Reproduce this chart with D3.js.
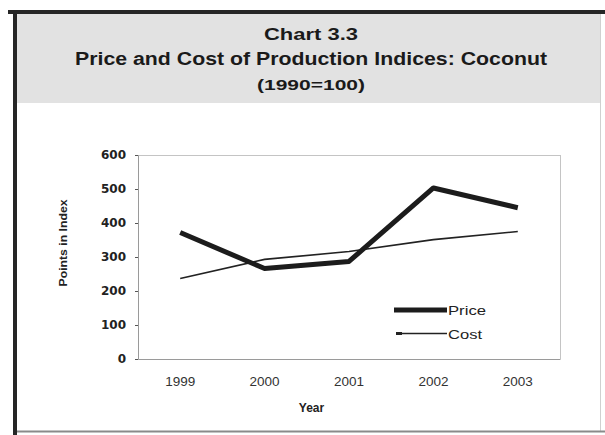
<!DOCTYPE html>
<html>
<head>
<meta charset="utf-8">
<script src="https://cdn.jsdelivr.net/npm/d3@7"></script>
<style>
  html, body { margin: 0; padding: 0; background: #fff; }
  svg { display: block; }
</style>
</head>
<body>
<svg id="chart" width="605" height="435"></svg>
<script>
// ---- data ----
const years = ["1999", "2000", "2001", "2002", "2003"];
const priceValues = [372, 266, 287, 503, 445];
const costValues = [237, 293, 316, 351, 375];
const yTicks = [0, 100, 200, 300, 400, 500, 600];
const titleLines = ["Chart 3.3", "Price and Cost of Production Indices: Coconut", "(1990=100)"];
const seriesNames = ["Price", "Cost"];

const svg = d3.select("#chart");

// ---- frame ----
svg.append("rect").attr("x", 16).attr("y", 14).attr("width", 584).attr("height", 89).attr("fill", "#e2e2e2");
svg.append("rect").attr("x", 8).attr("y", 10).attr("width", 597).attr("height", 4).attr("fill", "#262626");
svg.append("rect").attr("x", 13).attr("y", 10).attr("width", 4).attr("height", 425).attr("fill", "#262626");
svg.append("line").attr("x1", 600.5).attr("x2", 600.5).attr("y1", 14).attr("y2", 432).attr("stroke", "#d0d0d0").attr("stroke-width", 1);
svg.append("line").attr("x1", 17).attr("x2", 605).attr("y1", 431.5).attr("y2", 431.5).attr("stroke", "#8a8a8a").attr("stroke-width", 2);

// ---- title ----
const titleSpec = [
  { y: 40, size: 17, len: 94 },
  { y: 65, size: 18, len: 472 },
  { y: 90, size: 15, len: 108 }
];
titleLines.forEach((t, i) => {
  svg.append("text")
    .attr("x", 311).attr("y", titleSpec[i].y)
    .attr("text-anchor", "middle")
    .attr("font-family", "Liberation Sans, Arial, sans-serif")
    .attr("font-weight", "bold")
    .attr("font-size", titleSpec[i].size)
    .attr("fill", "#1a1a1a")
    .attr("textLength", titleSpec[i].len)
    .attr("lengthAdjust", "spacingAndGlyphs")
    .text(t);
});

// ---- plot ----
const plot = { left: 138, right: 560, top: 155, bottom: 359 };
const x = d3.scaleBand().domain(years).range([plot.left, plot.right]);
const y = d3.scaleLinear().domain([0, 600]).range([plot.bottom, plot.top]);

// plot frame (top/right light)
svg.append("line").attr("x1", plot.left).attr("x2", plot.right).attr("y1", plot.top + 0.5).attr("y2", plot.top + 0.5)
  .attr("stroke", "#c4c4c4").attr("stroke-width", 1);
svg.append("line").attr("x1", plot.right + 0.5).attr("x2", plot.right + 0.5).attr("y1", plot.top).attr("y2", plot.bottom)
  .attr("stroke", "#c4c4c4").attr("stroke-width", 1);

// y axis
const yAxis = svg.append("g").attr("transform", `translate(${plot.left},0)`)
  .call(d3.axisLeft(y).tickValues(yTicks).tickSize(3).tickPadding(9));
yAxis.select(".domain").attr("stroke", "#9a9a9a");
yAxis.selectAll(".tick line").attr("stroke", "#555");
yAxis.selectAll(".tick text")
  .attr("font-family", "DejaVu Sans, sans-serif")
  .attr("font-weight", "bold")
  .attr("font-size", 12)
  .attr("fill", "#222");

// x axis
const xAxis = svg.append("g").attr("transform", `translate(0,${plot.bottom})`)
  .call(d3.axisBottom(x).tickSize(0).tickPadding(17));
xAxis.select(".domain").attr("stroke", "#9a9a9a");
xAxis.selectAll(".tick text")
  .attr("font-family", "Liberation Sans, Arial, sans-serif")
  .attr("font-size", 13.5)
  .attr("fill", "#333");

// axis titles
svg.append("text")
  .attr("transform", "translate(67,243) rotate(-90)")
  .attr("text-anchor", "middle")
  .attr("font-family", "Liberation Sans, Arial, sans-serif")
  .attr("font-weight", "bold").attr("font-size", 10.5)
  .attr("fill", "#222")
  .attr("textLength", 87).attr("lengthAdjust", "spacingAndGlyphs")
  .text("Points in Index");
svg.append("text")
  .attr("x", 311.5).attr("y", 412)
  .attr("text-anchor", "middle")
  .attr("font-family", "Liberation Sans, Arial, sans-serif")
  .attr("font-weight", "bold").attr("font-size", 12)
  .attr("fill", "#222")
  .text("Year");

// lines
const line = d3.line().x((d, i) => x(years[i]) + x.bandwidth() / 2).y(d => y(d));
svg.append("path").datum(costValues).attr("d", line)
  .attr("fill", "none").attr("stroke", "#222").attr("stroke-width", 1.6);
svg.append("path").datum(priceValues).attr("d", line)
  .attr("fill", "none").attr("stroke", "#1c1c1c").attr("stroke-width", 5)
  .attr("stroke-linejoin", "round");

// legend
const legend = svg.append("g");
legend.append("line").attr("x1", 394).attr("x2", 447).attr("y1", 310).attr("y2", 310)
  .attr("stroke", "#1c1c1c").attr("stroke-width", 5);
legend.append("line").attr("x1", 396).attr("x2", 447).attr("y1", 333.5).attr("y2", 333.5)
  .attr("stroke", "#222").attr("stroke-width", 1.6);
legend.append("rect").attr("x", 396).attr("y", 332).attr("width", 6).attr("height", 3).attr("fill", "#222");
[[seriesNames[0], 315, 38], [seriesNames[1], 338.5, 34]].forEach(([t, yy, len]) => {
  legend.append("text").attr("x", 448).attr("y", yy)
    .attr("font-family", "Liberation Sans, Arial, sans-serif")
    .attr("font-size", 12.5).attr("fill", "#222")
    .attr("textLength", len).attr("lengthAdjust", "spacingAndGlyphs")
    .text(t);
});
</script>
</body>
</html>
